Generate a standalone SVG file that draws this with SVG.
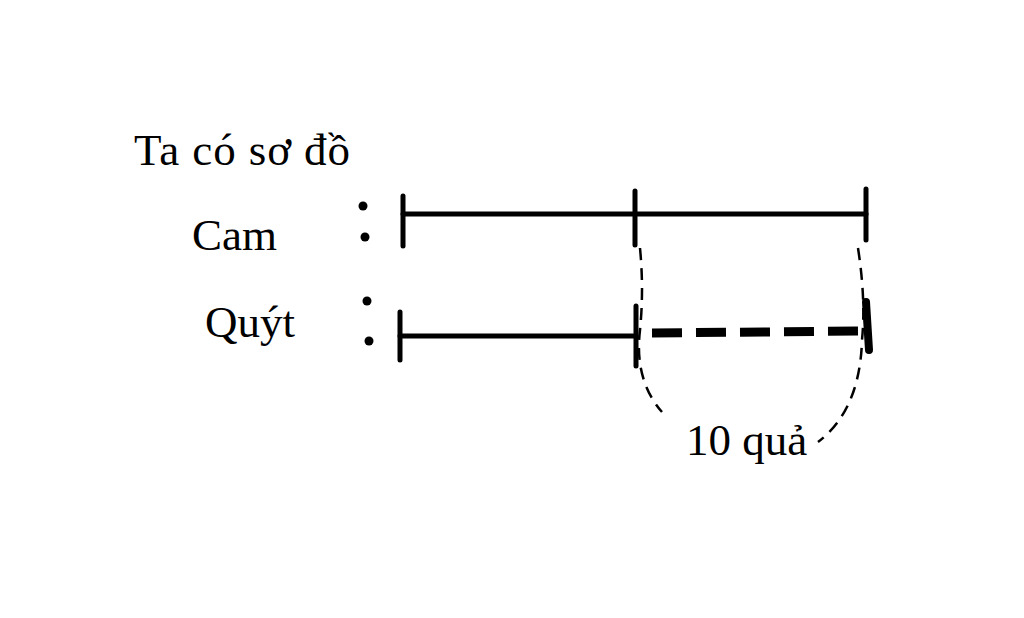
<svg xmlns="http://www.w3.org/2000/svg" width="1024" height="618" viewBox="0 0 1024 618">
<style>
text{font-family:"Liberation Serif","DejaVu Serif",serif;font-size:45px;fill:#000}
.s{stroke:#000;stroke-width:5;fill:none;stroke-linecap:round}
.d{stroke:#000;stroke-width:2.5;fill:none;stroke-dasharray:12 8}
</style>
<rect width="1024" height="618" fill="#fff"/>
<g id="title"><text x="134" y="165" textLength="216">Ta có sơ đồ</text></g>
<g id="cam">
<text x="192" y="250">Cam</text>
<circle cx="363" cy="206" r="4.5"/><circle cx="365" cy="237" r="4.5"/>
<line class="s" x1="403" y1="214" x2="866" y2="214"/>
<line class="s" x1="403" y1="196" x2="403" y2="246"/>
<line class="s" x1="635" y1="191" x2="635" y2="245"/>
<line class="s" x1="866" y1="189" x2="866" y2="240"/>
</g>
<g id="quyt">
<text x="205" y="337">Quýt</text>
<circle cx="367" cy="301" r="4.5"/><circle cx="369" cy="341" r="4.5"/>
<line class="s" x1="400" y1="336" x2="636" y2="336"/>
<line class="s" x1="400" y1="312" x2="400" y2="360"/>
<line class="s" x1="636" y1="306" x2="636" y2="366"/>
<line stroke="#000" stroke-width="9" stroke-dasharray="30 14" x1="652" y1="333" x2="866" y2="331"/>
<line stroke="#000" stroke-width="8" stroke-linecap="round" x1="866" y1="302" x2="869" y2="350"/>
</g>
<g id="connectors">
<path class="d" d="M640 248 Q644 290 640 330 Q634 380 662 412"/>
<path class="d" d="M858 248 Q866 300 862 340 Q860 410 818 442"/>
</g>
<g id="label"><text x="686" y="455">10 quả</text></g>
</svg>
